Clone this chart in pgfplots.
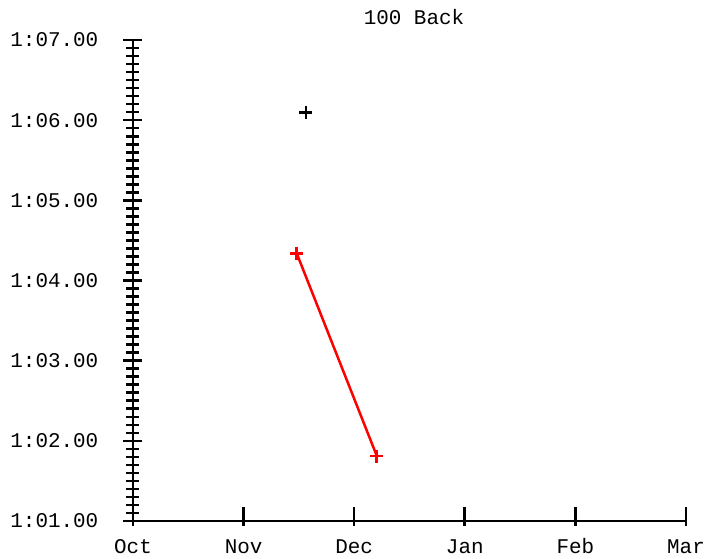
\documentclass[border=0pt]{standalone}
\usepackage{fontspec}
\setmainfont{Liberation Mono}
\usepackage{pgfplots}
\pgfplotsset{compat=1.18}
\begin{document}
\begin{tikzpicture}
\begin{axis}[
  scale only axis, width=553bp, height=481bp,
  xmin=0, xmax=5, ymin=61, ymax=67,
  axis lines=left,
  axis line style={-, line width=2.5bp, black},
  xtick={0,1,2,3,4,5},
  xticklabels={Oct,Nov,Dec,Jan,Feb,Mar},
  ytick={61,62,63,64,65,66,67},
  yticklabels={1:01.00,1:02.00,1:03.00,1:04.00,1:05.00,1:06.00,1:07.00},
  minor y tick num=9,
  tick align=center,
  major tick length=19bp, minor tick length=13bp,
  tick style={line width=2.6bp, black},
  xtick style={yshift=4.5bp},
  ticklabel style={font=\fontsize{21}{24}\selectfont, inner sep=0pt},
  yticklabel style={anchor=east, xshift=-25bp},
  xticklabel style={anchor=base, yshift=-23bp},
  title={100 Back},
  title style={font=\fontsize{21}{24}\selectfont, inner sep=0pt, at={(0.5,1)}, anchor=base, yshift=10bp, xshift=4.5bp},
  clip=false,
]
\addplot[black, line width=2.5bp, only marks, mark=+, mark size=6.5bp, mark options={line width=2.8bp}] coordinates {(1.564,66.10)};
\addplot[red, line width=2.5bp, mark=+, mark size=6.5bp, mark options={line width=2.8bp}] coordinates {(1.48,64.34) (2.205,61.81)};
\coordinate (bl) at (rel axis cs:-0.2405,-0.0769);
\coordinate (tr) at (rel axis cs:1.0362,1.0832);
\end{axis}
\pgfresetboundingbox
\path[use as bounding box] (bl) rectangle (tr);
\end{tikzpicture}
\end{document}
